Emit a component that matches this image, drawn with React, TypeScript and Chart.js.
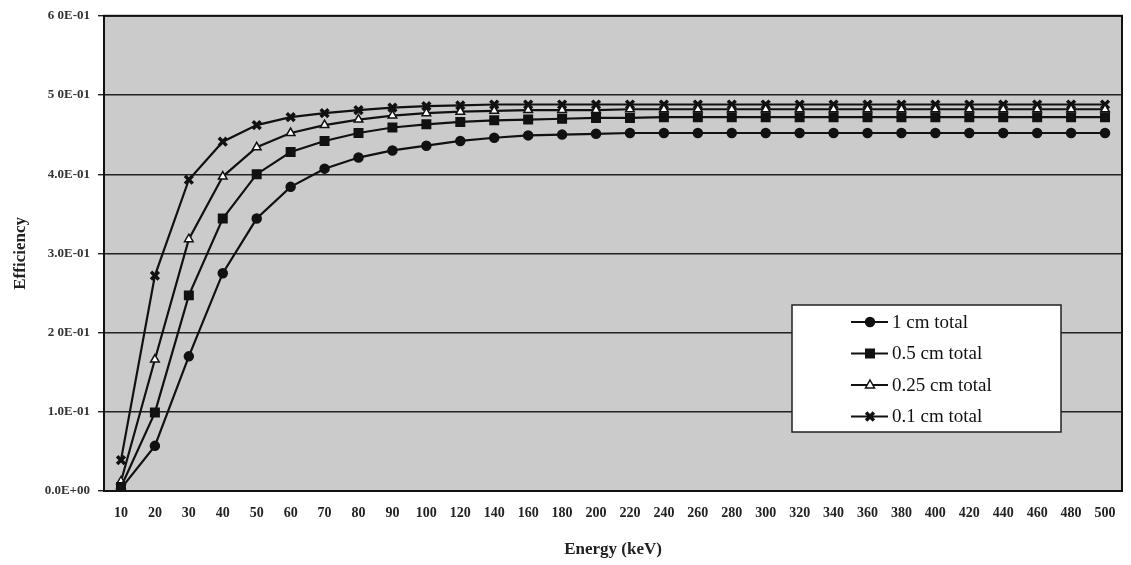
import React, { useEffect, useRef } from "react";
import { Chart, registerables } from "chart.js";

Chart.register(...registerables);

const energies = [
  "10", "20", "30", "40", "50", "60", "70", "80", "90", "100",
  "120", "140", "160", "180", "200", "220", "240", "260", "280", "300",
  "320", "340", "360", "380", "400", "420", "440", "460", "480", "500",
];

const cm1 = [
  0.003, 0.057, 0.17, 0.275, 0.344, 0.384, 0.407, 0.421, 0.43, 0.436,
  0.442, 0.446, 0.449, 0.45, 0.451, 0.452, 0.452, 0.452, 0.452, 0.452,
  0.452, 0.452, 0.452, 0.452, 0.452, 0.452, 0.452, 0.452, 0.452, 0.452,
];
const cm05 = [
  0.005, 0.099, 0.247, 0.344, 0.4, 0.428, 0.442, 0.452, 0.459, 0.463,
  0.466, 0.468, 0.469, 0.47, 0.471, 0.471, 0.472, 0.472, 0.472, 0.472,
  0.472, 0.472, 0.472, 0.472, 0.472, 0.472, 0.472, 0.472, 0.472, 0.472,
];
const cm025 = [
  0.012, 0.166, 0.318, 0.397, 0.434, 0.452, 0.462, 0.469, 0.474, 0.477,
  0.479, 0.48, 0.481, 0.481, 0.481, 0.482, 0.482, 0.482, 0.482, 0.482,
  0.482, 0.482, 0.482, 0.482, 0.482, 0.482, 0.482, 0.482, 0.482, 0.482,
];
const cm01 = [
  0.039, 0.272, 0.393, 0.441, 0.462, 0.472, 0.477, 0.481, 0.484, 0.486,
  0.487, 0.488, 0.488, 0.488, 0.488, 0.488, 0.488, 0.488, 0.488, 0.488,
  0.488, 0.488, 0.488, 0.488, 0.488, 0.488, 0.488, 0.488, 0.488, 0.488,
];

const seriesLabels = ["1 cm total", "0.5 cm total", "0.25 cm total", "0.1 cm total"];
const yTickLabels = ["0.0E+00", "1.0E-01", "2 0E-01", "3.0E-01", "4.0E-01", "5 0E-01", "6 0E-01"];

const pointStyles = ["circle", "rect", "triangle", "crossRot"] as const;
const pointRadii = [4.5, 6, 5, 5.5];
const pointFills = ["#111", "#111", "#fff", "#111"];
const pointBorderW = [1.5, 1.5, 1.5, 3.5];

function drawMarker(ctx: CanvasRenderingContext2D, style: string, x: number, y: number, r: number, fill: string, bw: number) {
  ctx.save();
  ctx.fillStyle = fill;
  ctx.strokeStyle = "#111";
  ctx.lineWidth = bw;
  ctx.beginPath();
  if (style === "circle") {
    ctx.arc(x, y, r, 0, Math.PI * 2);
    ctx.fill();
    ctx.stroke();
  } else if (style === "rect") {
    const s = Math.SQRT1_2 * r;
    ctx.rect(x - s, y - s, 2 * s, 2 * s);
    ctx.fill();
    ctx.stroke();
  } else if (style === "triangle") {
    ctx.moveTo(x, y - r);
    ctx.lineTo(x + r * 0.9, y + r * 0.6);
    ctx.lineTo(x - r * 0.9, y + r * 0.6);
    ctx.closePath();
    ctx.fill();
    ctx.stroke();
  } else {
    const d = r * Math.SQRT1_2;
    ctx.moveTo(x - d, y - d);
    ctx.lineTo(x + d, y + d);
    ctx.moveTo(x + d, y - d);
    ctx.lineTo(x - d, y + d);
    ctx.stroke();
  }
  ctx.restore();
}

const bgPlugin = {
  id: "plotBg",
  beforeDraw(chart: any) {
    const { ctx, chartArea } = chart;
    ctx.save();
    ctx.fillStyle = "#cbcbcb";
    ctx.fillRect(chartArea.left, chartArea.top, chartArea.right - chartArea.left, chartArea.bottom - chartArea.top);
    ctx.restore();
  },
  afterDraw(chart: any) {
    const { ctx, chartArea } = chart;
    ctx.save();
    ctx.strokeStyle = "#111";
    ctx.lineWidth = 2;
    ctx.strokeRect(chartArea.left, chartArea.top, chartArea.right - chartArea.left, chartArea.bottom - chartArea.top);
    // legend box
    const boxRight = chartArea.right - 61;
    const boxBottom = chartArea.bottom - 59;
    const boxW = 269;
    const boxH = 127;
    const bx = boxRight - boxW;
    const by = boxBottom - boxH;
    ctx.fillStyle = "#fff";
    ctx.fillRect(bx, by, boxW, boxH);
    ctx.lineWidth = 1.5;
    ctx.strokeStyle = "#222";
    ctx.strokeRect(bx, by, boxW, boxH);
    ctx.font = "19px 'Liberation Serif', 'Times New Roman', serif";
    ctx.textBaseline = "middle";
    ctx.textAlign = "left";
    seriesLabels.forEach((lab, i) => {
      const cy = by + 17 + i * 31.5;
      ctx.strokeStyle = "#111";
      ctx.lineWidth = 2.2;
      ctx.beginPath();
      ctx.moveTo(bx + 59, cy);
      ctx.lineTo(bx + 96, cy);
      ctx.stroke();
      drawMarker(ctx, pointStyles[i], bx + 78, cy, pointRadii[i], pointFills[i], pointBorderW[i]);
      ctx.fillStyle = "#111";
      ctx.fillText(lab, bx + 100, cy + 1);
    });
    ctx.restore();
  },
};

export default function App() {
  const ref = useRef<HTMLCanvasElement | null>(null);
  useEffect(() => {
    if (!ref.current) return;
    const data = [cm1, cm05, cm025, cm01];
    const chart = new Chart(ref.current, {
      type: "line",
      data: {
        labels: energies,
        datasets: data.map((d, i) => ({
          label: seriesLabels[i],
          data: d,
          borderColor: "#111",
          borderWidth: 2.2,
          pointStyle: pointStyles[i] as any,
          pointRadius: pointRadii[i],
          pointBackgroundColor: pointFills[i],
          pointBorderColor: "#111",
          pointBorderWidth: pointBorderW[i],
          tension: 0,
          fill: false,
        })),
      },
      options: {
        responsive: false,
        animation: false,
        devicePixelRatio: 1,
        layout: { padding: { top: 14, right: 2, left: 0, bottom: 0 } },
        plugins: {
          legend: { display: false },
          tooltip: { enabled: false },
        },
        scales: {
          x: {
            offset: true,
            grid: { display: false, drawTicks: true, tickLength: 6 },
            border: { display: false },
            ticks: {
              color: "#222",
              font: { family: "'Liberation Serif', serif", size: 14, weight: "bold" },
              padding: 8,
              maxRotation: 0,
              autoSkip: false,
            },
            title: {
              display: true,
              text: "Energy (keV)",
              color: "#222",
              font: { family: "'Liberation Serif', serif", size: 17, weight: "bold" },
              padding: { top: 4, bottom: 5 },
            },
            afterFit(scale: any) {
              scale.height = 74;
            },
          },
          y: {
            min: 0,
            max: 0.6,
            grid: { color: "#222", lineWidth: 1.4, tickLength: 6 },
            border: { display: false },
            ticks: {
              stepSize: 0.1,
              color: "#333",
              font: { family: "'Liberation Serif', serif", size: 13, weight: "bold" },
              padding: 8,
              callback: (_v: any, idx: number) => yTickLabels[idx],
            },
            title: {
              display: true,
              text: "Efficiency",
              color: "#222",
              font: { family: "'Liberation Serif', serif", size: 17, weight: "bold" },
              padding: { top: 10, bottom: 0 },
            },
            afterFit(scale: any) {
              scale.width = 104;
            },
          },
        },
      },
      plugins: [bgPlugin],
    });
    return () => chart.destroy();
  }, []);
  return (
    <div style={{ position: "fixed", left: 0, top: 0, width: 1131, height: 565, background: "#fff" }}>
      <canvas ref={ref} width={1131} height={565} style={{ width: 1131, height: 565 }} />
    </div>
  );
}
